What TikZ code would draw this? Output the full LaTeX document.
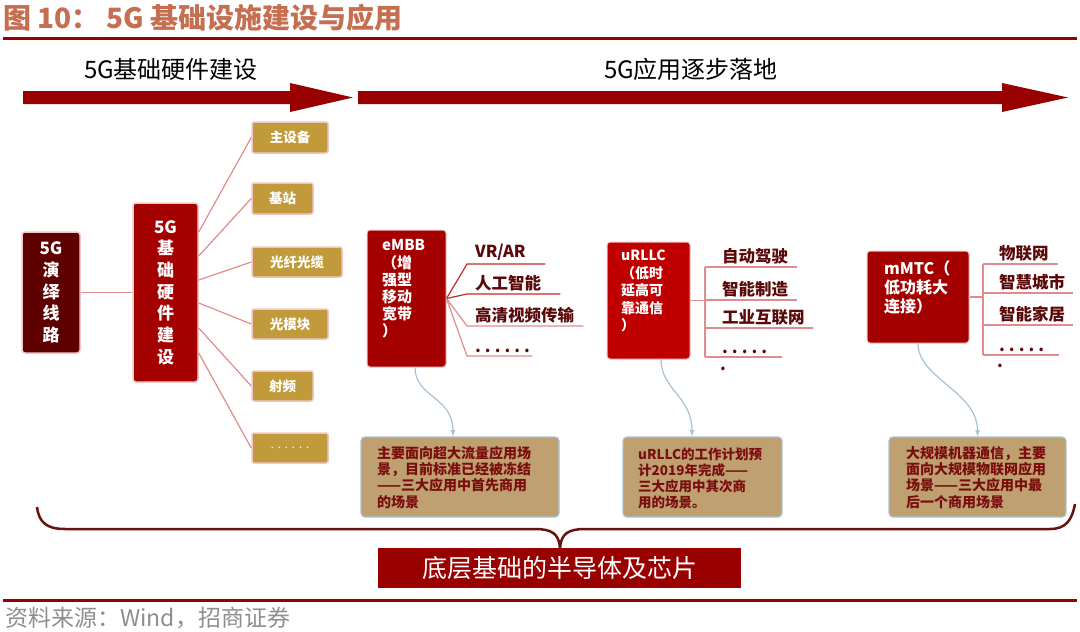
\documentclass[tikz,border=0pt]{standalone}
\usepackage{fontspec}
\setmainfont{Noto Sans CJK SC}
\definecolor{rulered}{HTML}{990000}
\definecolor{titlebrown}{HTML}{C66E50}
\definecolor{deepred}{HTML}{5E0000}
\definecolor{boxred}{HTML}{A50000}
\definecolor{brightred}{HTML}{C00000}
\definecolor{partgold}{HTML}{C19B3B}
\definecolor{glow}{HTML}{F2C6C6}
\definecolor{linkpink}{HTML}{E08C8C}
\definecolor{fanred}{HTML}{C82828}
\definecolor{itemred}{HTML}{5A0808}
\definecolor{notetan}{HTML}{BFA071}
\definecolor{noteblue}{HTML}{A7C2D4}
\definecolor{notered}{HTML}{7A0E0E}
\definecolor{bracered}{HTML}{6B0F0F}
\definecolor{sourcegrey}{HTML}{8E8E8E}
\newcommand{\dotrow}[1]{\mbox{.\foreach \k in {2,...,#1}{\hspace{4pt}.}}}
\tikzset{
  vbox/.style={rounded corners=3pt, draw=glow, line width=1.5pt, text=white, align=center, font=\bfseries\fontsize{17}{21.7}\selectfont},
  appbox/.style={rounded corners=3pt, draw=glow, line width=1pt},
  partbox/.style={fill=partgold, rounded corners=2pt, draw=glow, line width=1.5pt, text=white, font=\bfseries\fontsize{13.5}{15}\selectfont},
  boxtext/.style={anchor=north west, inner sep=0pt, text=white, align=left},
  itemtext/.style={anchor=south west, inner xsep=0pt, inner ysep=3pt, text=itemred, align=left, font=\bfseries\fontsize{16.5}{18}\selectfont},
  notebox/.style={fill=notetan, draw=noteblue, line width=1.2pt, rounded corners=4pt},
  notetext/.style={anchor=north west, inner sep=0pt, text=notered, align=left, font=\bfseries\fontsize{14}{16.3}\selectfont},
  link/.style={linkpink, line width=1.2pt},
  note/.style={noteblue, line width=1.2pt, -latex}
}
\begin{document}
\begin{tikzpicture}[x=1pt, y=-1pt]

  \fill[white] (0,0) rectangle (1080,632); \useasboundingbox (0,0) rectangle (1080,632);
  \node[anchor=west, inner sep=0pt, text=titlebrown, font=\bfseries\fontsize{28}{30}\selectfont] (title) at (3,18) {图 10： 5G 基础设施建设与应用};
  \draw[rulered, line width=3pt] (3,38) -- (1077,38); \draw[rulered, line width=3pt] (3,600) -- (1077,600);
  \node[font=\fontsize{24}{26}\selectfont] (hwlabel) at (171,69) {5G基础硬件建设};
  \node[font=\fontsize{24}{26}\selectfont] (applabel) at (691,69) {5G应用逐步落地};
  \fill[rulered] (23,91) -- (290,91) -- (290,83) -- (353,97.5) -- (290,112) -- (290,104) -- (23,104) -- cycle;
  \fill[rulered] (358,91) -- (1002,91) -- (1002,83) -- (1068,97.5) -- (1002,112) -- (1002,104) -- (358,104) -- cycle;

  \node[vbox, fill=deepred, minimum width=58pt, minimum height=121pt] (yyxl) at (51,292.5) {5G\\演\\绎\\线\\路};
  \node[vbox, fill=boxred, minimum width=65pt, minimum height=179pt] (jcyj) at (165.5,292.5) {5G\\基\\础\\硬\\件\\建\\设};
  \node[partbox, minimum width=76pt, minimum height=31pt] (zsb) at (290,137.5) {主设备};
  \node[partbox, minimum width=61pt, minimum height=31pt] (jz) at (282.5,198.5) {基站};
  \node[partbox, minimum width=90pt, minimum height=30pt] (gxgl) at (297,262) {光纤光缆};
  \node[partbox, minimum width=76pt, minimum height=30pt] (gmk) at (290,324) {光模块};
  \node[partbox, minimum width=61pt, minimum height=30pt] (sp) at (282.5,386) {射频};
  \node[partbox, minimum width=76pt, minimum height=30pt, font=\fontsize{11}{12}\selectfont] (qt) at (290,448) {\dotrow{6}};
  \draw[link] (yyxl.east) -- (jcyj.west);
  \draw[link] ([yshift=60.5pt]jcyj.east) -- (zsb.west); \draw[link] ([yshift=36.5pt]jcyj.east) -- (jz.west);
  \draw[link] ([yshift=12.5pt]jcyj.east) -- (gxgl.west); \draw[link] ([yshift=-10.5pt]jcyj.east) -- (gmk.west);
  \draw[link] ([yshift=-35.5pt]jcyj.east) -- (sp.west); \draw[link] ([yshift=-60.5pt]jcyj.east) -- (qt.west);

  \node[appbox, fill=boxred, minimum width=79pt, minimum height=137pt] (embb) at (406.5,298.5) {};
  \node[boxtext, font=\bfseries\fontsize{15}{17.2}\selectfont] (embbt) at (382,239.5) {eMBB\\（增\\强型\\移动\\宽带\\）};
  \node[itemtext, text width=70pt] (vrar) at (475,264) {VR/AR};
  \node[itemtext, text width=85pt] (rgzn) at (475,294) {人工智能};
  \node[itemtext, text width=108pt] (gqsp) at (475,326) {高清视频传输};
  \node[itemtext, text width=57pt] (edots) at (475,356) {\dotrow{6}};
  \draw[fanred, line width=1.2pt] (embb.east) -- ([xshift=-8pt]vrar.south west) -- (vrar.south east);
  \draw[fanred, line width=1.2pt] (embb.east) -- ([xshift=-8pt]rgzn.south west) -- (rgzn.south east);
  \draw[link] (embb.east) -- ([xshift=-8pt]gqsp.south west) -- (gqsp.south east);
  \draw[link] (embb.east) -- ([xshift=-8pt]edots.south west) -- (edots.south east);

  \node[appbox, fill=brightred, minimum width=83pt, minimum height=117pt] (urllc) at (648.5,300.5) {};
  \node[boxtext, font=\bfseries\fontsize{14}{17.5}\selectfont] (urllct) at (621,250) {uRLLC\\（低时\\延高可\\靠通信\\）};
  \node[itemtext, text width=75pt] (zdjs) at (722,267) {自动驾驶};
  \node[itemtext, text width=75pt] (znzz) at (722,300) {智能制造};
  \node[itemtext, text width=91pt] (gyhl) at (722,328) {工业互联网};
  \node[itemtext, text width=60pt] (udots) at (722,357) {\dotrow{5}};
  \node[itemtext, anchor=west] (udot) at (720,369) {.};
  \draw[link] (urllc.east) -- ++(15,0);
  \draw[link] ([xshift=-17pt]zdjs.south west) -- ([xshift=-17pt]udots.south west);
  \draw[link] ([xshift=-17pt]zdjs.south west) -- (zdjs.south east); \draw[link] ([xshift=-17pt]znzz.south west) -- (znzz.south east);
  \draw[link] ([xshift=-17pt]gyhl.south west) -- (gyhl.south east); \draw[link] ([xshift=-17pt]udots.south west) -- (udots.south east);

  \node[appbox, fill=boxred, minimum width=102pt, minimum height=92pt] (mmtc) at (918,297) {};
  \node[boxtext, font=\bfseries\fontsize{16}{19}\selectfont] (mmtct) at (884,260.5) {mMTC（\\低功耗大\\连接）};
  \node[itemtext, text width=59pt] (wlw) at (999,264) {物联网};
  \node[itemtext, text width=74pt] (zhcs) at (999,293) {智慧城市};
  \node[itemtext, text width=74pt] (znjj) at (999,325) {智能家居};
  \node[itemtext, text width=60pt] (mdots) at (999,355) {\dotrow{5}};
  \node[itemtext, anchor=west] (mdot) at (997,366) {.};
  \draw[link] (mmtc.east) -- ++(14,0);
  \draw[link] ([xshift=-16pt]wlw.south west) -- ([xshift=-16pt]mdots.south west);
  \draw[link] ([xshift=-16pt]wlw.south west) -- (wlw.south east); \draw[link] ([xshift=-16pt]zhcs.south west) -- (zhcs.south east);
  \draw[link] ([xshift=-16pt]znjj.south west) -- (znjj.south east); \draw[link] ([xshift=-16pt]mdots.south west) -- (mdots.south east);

  \node[notebox, minimum width=198pt, minimum height=80pt] (notea) at (460,477) {};
  \node[notetext] (noteat) at (377,446) {主要面向超大流量应用场\\景，目前标准已经被冻结\\——三大应用中首先商用\\的场景};
  \node[notebox, minimum width=159pt, minimum height=80pt] (noteb) at (702.5,477) {};
  \node[notetext, font=\bfseries\fontsize{13.5}{16}\selectfont] (notebt) at (638,448) {uRLLC的工作计划预\\计2019年完成——\\三大应用中其次商\\用的场景。};
  \node[notebox, minimum width=177pt, minimum height=80pt] (notec) at (977.5,477) {};
  \node[notetext] (notect) at (906,446) {大规模机器通信，主要\\面向大规模物联网应用\\场景——三大应用中最\\后一个商用场景};
  \draw[note] ([xshift=8.5pt]embb.south) .. controls +(0,30) and +(0,-40) .. ([xshift=-7pt]notea.north);
  \draw[note] ([xshift=12.5pt]urllc.south) .. controls +(0,30) and +(0,-40) .. ([xshift=-10.5pt]noteb.north);
  \draw[note] (mmtc.south) .. controls +(0,35) and +(0,-45) .. (notec.north);

  \draw[bracered, line width=2.5pt] (37,507) .. controls (39,522) and (46,529) .. (65,529) -- (535,529) .. controls (552,529) and (559,534) .. (560,548);
  \draw[bracered, line width=2.5pt] (560,548) .. controls (561,534) and (568,529) .. (585,529) -- (1050,529) .. controls (1066,529) and (1072,520) .. (1075,504);
  \node[fill=rulered, minimum width=363pt, minimum height=40pt, text=white, font=\fontsize{25}{27}\selectfont] (chip) at (559.5,568) {底层基础的半导体及芯片};
  \node[anchor=west, inner sep=0pt, text=sourcegrey, font=\fontsize{23}{25}\selectfont] (src) at (5,618) {资料来源：Wind，招商证券};

\end{tikzpicture}
\end{document}
